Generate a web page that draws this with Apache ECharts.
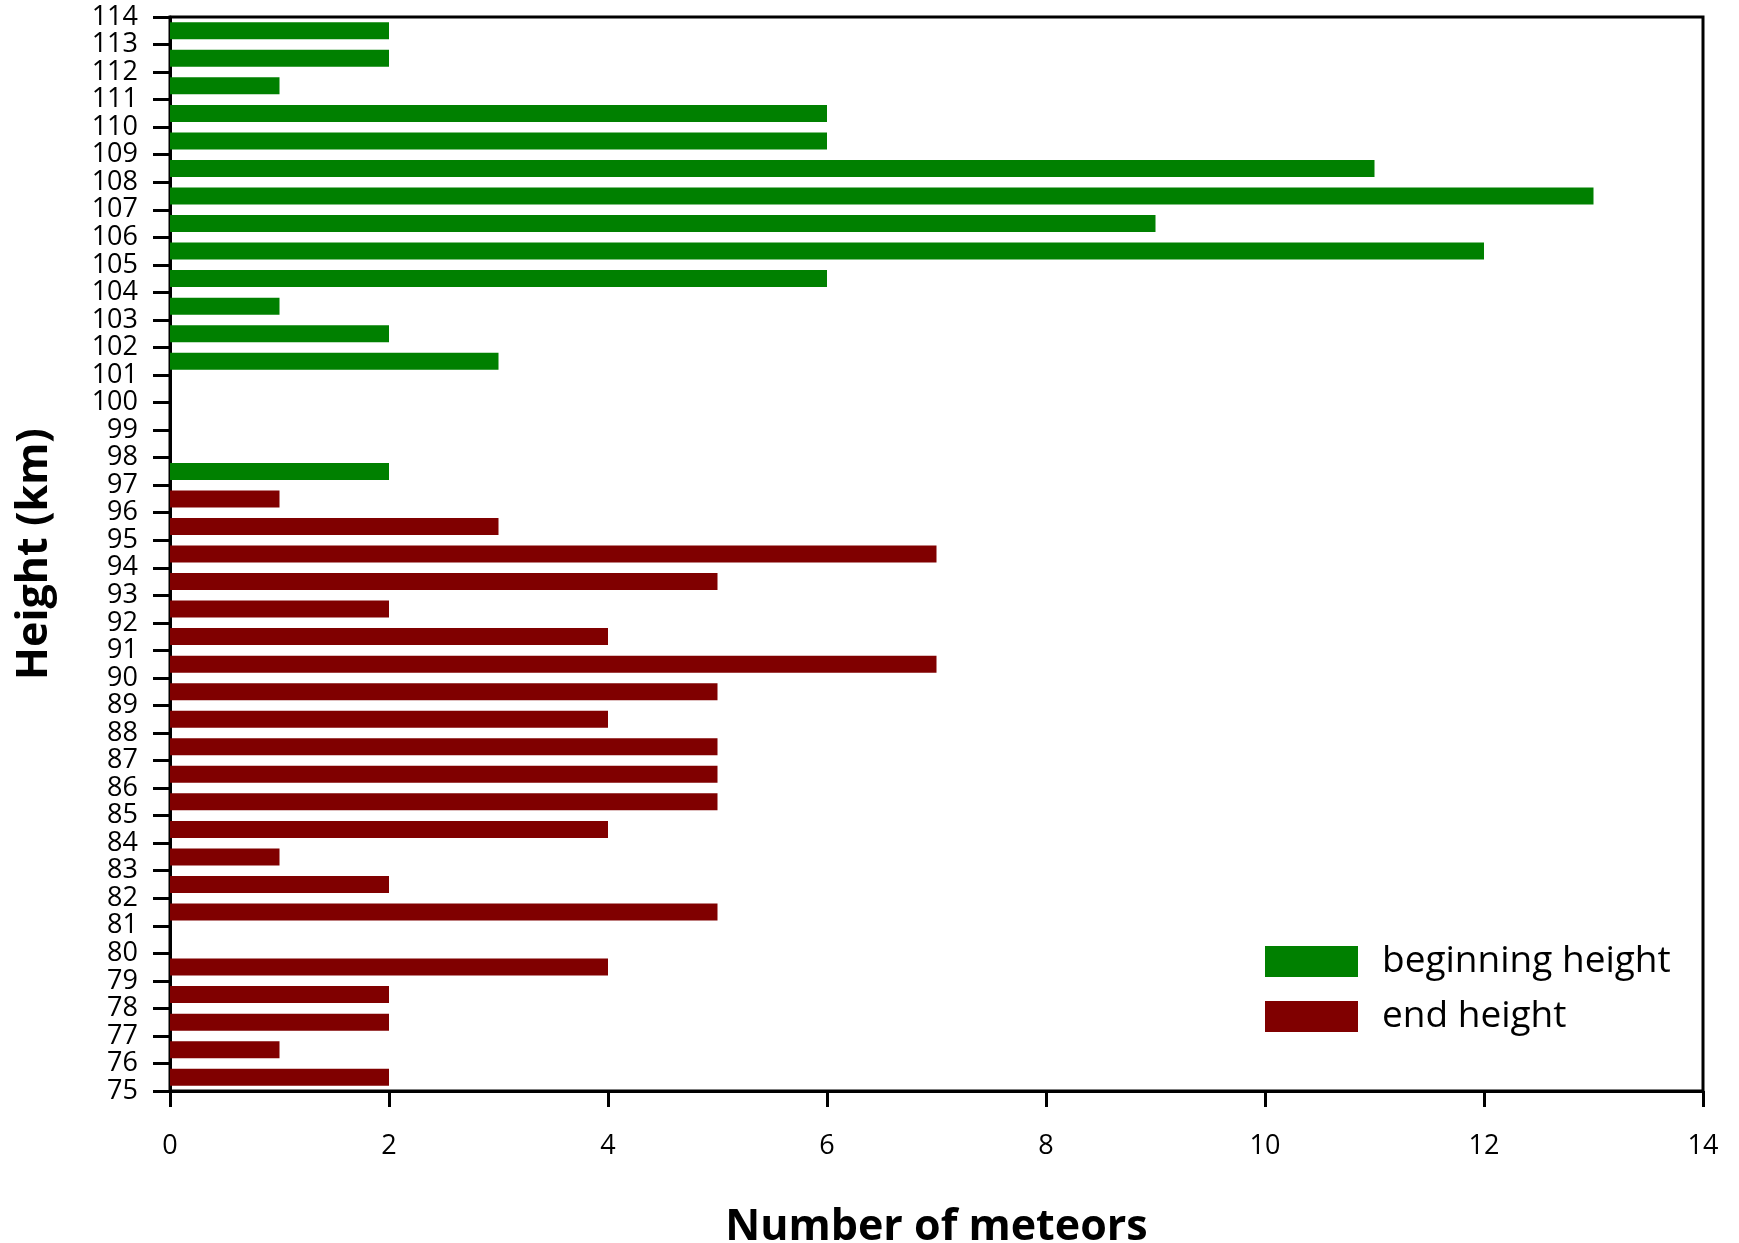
<!DOCTYPE html>
<html>
<head>
<meta charset="utf-8">
<script src="https://cdn.jsdelivr.net/npm/echarts@6/dist/echarts.min.js"></script>
<style>
html,body{margin:0;padding:0;background:#fff;}
#chart{width:1739px;height:1243px;}
</style>
</head>
<body>
<div id="chart"></div>
<script>
// Height bins (km), bin k spans k..k+1
const heightBins = [75,76,77,78,79,80,81,82,83,84,85,86,87,88,89,90,91,92,93,94,95,96,97,98,99,100,101,102,103,104,105,106,107,108,109,110,111,112,113];
// beginning height counts per bin
const beginningCounts = [null,null,null,null,null,null,null,null,null,null,null,null,null,null,null,null,null,null,null,null,null,null,2,null,null,null,3,2,1,6,12,9,13,11,6,6,1,2,2];
// end height counts per bin
const endCounts = [2,1,2,2,4,null,5,2,1,4,5,5,5,4,5,7,4,2,5,7,3,1,null,null,null,null,null,null,null,null,null,null,null,null,null,null,null,null,null];
const seriesNames = ['beginning height','end height'];
const xTitle = 'Number of meteors';
const yTitle = 'Height (km)';

const FONT = '"Open Sans", "Liberation Sans", sans-serif';
const chart = echarts.init(document.getElementById('chart'), null, {renderer:'canvas'});
chart.setOption({
  backgroundColor:'#fff',
  animation:false,
  grid:{left:170,right:36,top:17,bottom:152,containLabel:false,outerBoundsMode:'none',show:true,borderColor:'#000',borderWidth:3,backgroundColor:'transparent'},
  legend:{
    left:1265, top:943, orient:'vertical', padding:0,
    itemWidth:93, itemHeight:31, itemGap:18, icon:'rect',
    textStyle:{fontFamily:FONT,fontSize:37,lineHeight:31,color:'#000',padding:[0,0,0,19]},
    data:seriesNames
  },
  xAxis:{
    type:'value', min:0, max:14, interval:2,
    name:xTitle, nameLocation:'middle', nameGap:115,
    nameTextStyle:{fontFamily:FONT,fontSize:43,fontWeight:'bold',color:'#000'},
    axisLine:{show:true,lineStyle:{color:'#000',width:3}},
    axisTick:{show:true,length:16,lineStyle:{color:'#000',width:3}},
    axisLabel:{fontFamily:FONT,fontSize:27,color:'#000',margin:42},
    splitLine:{show:false}
  },
  yAxis:[
    {
      type:'category', data:heightBins, position:'left', show:false, boundaryGap:true
    },
    {
      type:'value', min:75, max:114, interval:1, position:'left',
      name:yTitle, nameLocation:'middle', nameGap:114,
      nameTextStyle:{fontFamily:FONT,fontSize:43,fontWeight:'bold',color:'#000'},
      axisLine:{show:true,lineStyle:{color:'#000',width:3}},
      axisTick:{show:true,length:17,lineStyle:{color:'#000',width:3}},
      axisLabel:{fontFamily:FONT,fontSize:27,color:'#000',margin:32},
      splitLine:{show:false}
    }
  ],
  series:[
    {name:seriesNames[0],type:'bar',yAxisIndex:0,stack:'h',barWidth:17,data:beginningCounts,itemStyle:{color:'#008000'}},
    {name:seriesNames[1],type:'bar',yAxisIndex:0,stack:'h',barWidth:17,data:endCounts,itemStyle:{color:'#800000'}}
  ]
});
</script>
</body>
</html>
